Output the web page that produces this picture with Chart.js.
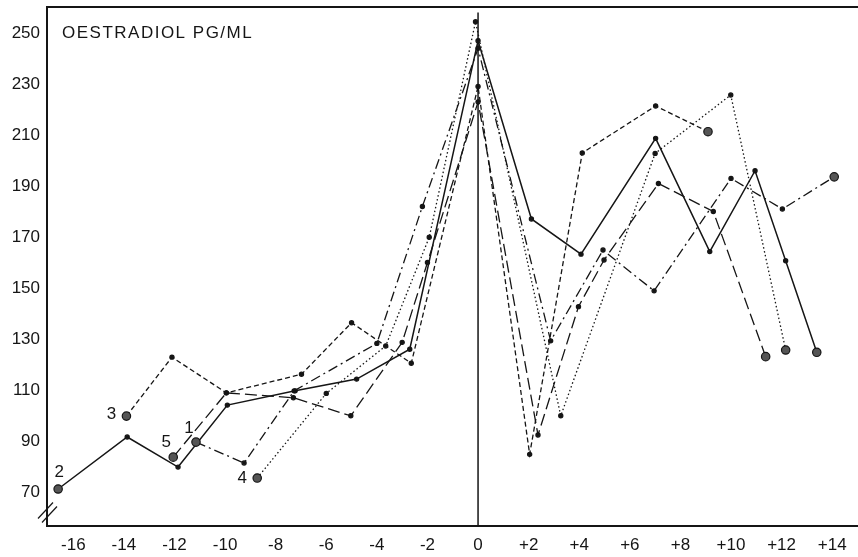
<!DOCTYPE html>
<html>
<head>
<meta charset="utf-8">
<script src="https://cdn.jsdelivr.net/npm/chart.js@4.4.0/dist/chart.umd.min.js"></script>
<style>
  html, body { margin: 0; padding: 0; background: #fff; }
</style>
</head>
<body>
<canvas id="chart" width="858" height="557"></canvas>
<script>
// oestradiol (pg/ml) against day relative to the peak, one array pair per curve
const days1 = [-11.15, -9.25, -7.27, -4.0, -2.2, 0, 2.87, 4.94, 6.96, 10.0, 12.03, 14.08];
const oestradiol1 = [89.6, 81.4, 109.7, 128.3, 182, 244, 129.3, 164.9, 148.9, 193, 181, 193.6];

const days2 = [-16.6, -13.87, -11.86, -9.91, -7.23, -4.8, -2.7, 0, 2.11, 4.07, 7.02, 9.16, 10.95, 12.16, 13.39];
const oestradiol2 = [71.2, 91.6, 79.8, 104.1, 109.7, 114.3, 126, 247, 177.1, 163.3, 208.7, 164.3, 196, 160.7, 124.8];

const days3 = [-13.9, -12.1, -9.95, -6.98, -5.0, -2.64, 0, 2.04, 4.12, 7.02, 9.09];
const oestradiol3 = [99.8, 122.9, 108.9, 116.2, 136.4, 120.5, 229, 84.8, 203, 221.4, 211.3];

const days4 = [-8.73, -6.0, -3.65, -1.93, -0.1, 3.27, 7.0, 9.99, 12.16];
const oestradiol4 = [75.5, 108.7, 127.3, 169.9, 254.4, 99.9, 202.8, 225.7, 125.7];

const days5 = [-12.05, -9.95, -7.3, -5.03, -3.0, -2.0, 0, 2.37, 3.97, 4.98, 7.13, 9.3, 11.37];
const oestradiol5 = [83.7, 108.9, 107, 99.9, 128.7, 160, 223, 92.4, 142.7, 161, 191, 180, 123.1];

const curveNames = ['1', '2', '3', '4', '5'];
const xTicks = [-16, -14, -12, -10, -8, -6, -4, -2, 0, 2, 4, 6, 8, 10, 12, 14];
const yTicks = [70, 90, 110, 130, 150, 170, 190, 210, 230, 250];
const yAxisMin = 56.7;
const yAxisMax = 260.2;
const peakLineTop = 258;

const ink = '#151515';
const font = { family: "'Liberation Sans', Arial, sans-serif", size: 17 };

const toPoints = (xs, ys) => xs.map((x, i) => ({ x: x, y: ys[i] }));

// bigger ringed marker on the first and last point of each curve
const isEnd = ctx => ctx.dataIndex === 0 || ctx.dataIndex === ctx.dataset.data.length - 1;
const endRadius = ctx => (isEnd(ctx) ? 4.2 : 2.1);
const endFill = ctx => (isEnd(ctx) ? '#555' : ink);

function curve(label, xs, ys, dash, width) {
  return {
    label: label,
    data: toPoints(xs, ys),
    borderColor: ink,
    borderWidth: width,
    borderDash: dash,
    pointRadius: endRadius,
    pointBackgroundColor: endFill,
    pointBorderColor: ink,
    pointBorderWidth: 1.2,
    tension: 0,
    fill: false
  };
}

const datasets = [
  curve(curveNames[0], days1, oestradiol1, [10, 4, 2, 4], 1.3),
  curve(curveNames[1], days2, oestradiol2, [], 1.5),
  curve(curveNames[2], days3, oestradiol3, [5, 3], 1.3),
  curve(curveNames[3], days4, oestradiol4, [1.5, 2.5], 1.3),
  curve(curveNames[4], days5, oestradiol5, [12, 5], 1.3),
  {
    label: 'day 0',
    data: [{ x: 0, y: yAxisMin }, { x: 0, y: peakLineTop }],
    borderColor: ink,
    borderWidth: 1.5,
    pointRadius: 0,
    fill: false
  }
];

// curve numbers beside the starting points, offsets in px
const numberOffsets = [[-7, -14], [1, -17], [-15, -2], [-15, 0], [-7, -15]];

const decorations = {
  id: 'decorations',
  afterDraw(chart) {
    const { ctx, chartArea, scales } = chart;
    ctx.save();
    // top frame line
    ctx.strokeStyle = ink;
    ctx.lineWidth = 2;
    ctx.beginPath();
    ctx.moveTo(chartArea.left, chartArea.top);
    ctx.lineTo(chart.width, chartArea.top);
    ctx.stroke();

    // axis break mark near the origin
    const bx = chartArea.left;
    const by = scales.y.getPixelForValue(62);
    ctx.lineWidth = 1.2;
    [-2, 2].forEach(d => {
      ctx.beginPath();
      ctx.moveTo(bx - 7 + d, by + 8 + d);
      ctx.lineTo(bx + 8 + d, by - 8 + d);
      ctx.stroke();
    });

    ctx.fillStyle = ink;
    ctx.font = `${font.size}px ${font.family}`;
    ctx.textBaseline = 'middle';

    // axis caption inside the plot
    ctx.textAlign = 'left';
    ctx.letterSpacing = '1.5px';
    ctx.fillText('OESTRADIOL PG/ML', chartArea.left + 15, scales.y.getPixelForValue(250));
    ctx.letterSpacing = '0px';

    ctx.textAlign = 'center';
    chart.data.datasets.slice(0, 5).forEach((ds, i) => {
      const p = chart.getDatasetMeta(i).data[0];
      const [dx, dy] = numberOffsets[i];
      ctx.fillText(ds.label, p.x + dx, p.y + dy);
    });
    ctx.restore();
  }
};

new Chart(document.getElementById('chart'), {
  type: 'line',
  data: { datasets: datasets },
  options: {
    responsive: false,
    animation: false,
    devicePixelRatio: 1,
    layout: { autoPadding: false, padding: { top: 7, right: 0, left: 0, bottom: 0 } },
    plugins: { legend: { display: false }, tooltip: { enabled: false } },
    scales: {
      x: {
        type: 'linear',
        min: -17.04,
        max: 15.02,
        afterBuildTicks: s => { s.ticks = xTicks.map(v => ({ value: v })); },
        afterFit: s => {
          s.height = 31;
          s.paddingLeft = 0;
          s.paddingRight = 0;
        },
        ticks: {
          callback: v => (v > 0 ? '+' + v : String(v)),
          font: font,
          color: ink,
          padding: 9,
          maxRotation: 0,
          autoSkip: false
        },
        grid: { display: false, drawTicks: false },
        border: { display: true, color: ink, width: 2 }
      },
      y: {
        type: 'linear',
        min: yAxisMin,
        max: yAxisMax,
        afterBuildTicks: s => { s.ticks = yTicks.map(v => ({ value: v })); },
        afterFit: s => {
          s.width = 47;
          s.paddingTop = 0;
          s.paddingBottom = 0;
        },
        ticks: { font: font, color: ink, padding: 7, autoSkip: false },
        grid: { display: false, drawTicks: false },
        border: { display: true, color: ink, width: 2 }
      }
    }
  },
  plugins: [decorations]
});
</script>
</body>
</html>
